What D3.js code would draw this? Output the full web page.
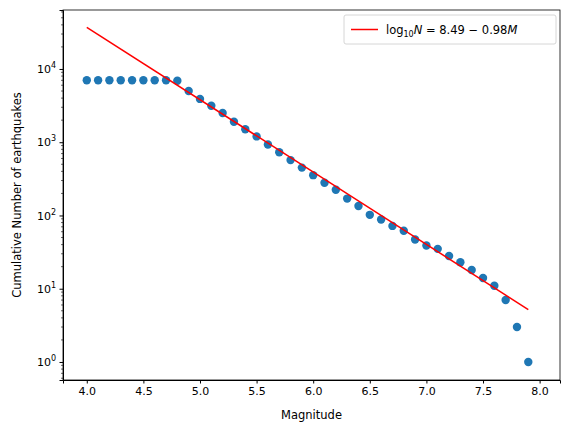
<!DOCTYPE html>
<html lang="en">
<head>
<meta charset="UTF-8"/>
<script src="https://d3js.org/d3.v7.min.js"></script>
<style>
    body { margin: 0; background: white; }
    text { font-family: "DejaVu Sans", sans-serif; }
</style>
</head>
<body>
<div id="chart"></div>
<script>
    const magnitudes = [4.0, 4.1, 4.2, 4.3, 4.4, 4.5, 4.6, 4.7, 4.8, 4.9, 5.0, 5.1, 5.2, 5.3, 5.4, 5.5, 5.6, 5.7, 5.8, 5.9,
        6.0, 6.1, 6.2, 6.3, 6.4, 6.5, 6.6, 6.7, 6.8, 6.9, 7.0, 7.1, 7.2, 7.3, 7.4, 7.5, 7.6, 7.7, 7.8, 7.9];
    const counts = [7000, 7000, 7000, 7000, 7000, 7000, 7000, 7000, 6900, 5000, 3900, 3150, 2500, 1900, 1500, 1200, 930, 730, 570, 450,
        355, 280, 225, 170, 135, 102, 88, 72, 62, 47, 39, 35, 28, 23, 18, 14, 11, 7, 3, 1];
    const fitLine = [{m: 4.0, n: 37000}, {m: 7.9, n: 5.2}];
    const xTicks = [4.0, 4.5, 5.0, 5.5, 6.0, 6.5, 7.0, 7.5, 8.0];
    const yTicks = [0, 1, 2, 3, 4];

    const width = 570, height = 433;
    const margin = {top: 10, right: 10, bottom: 53, left: 63};
    const gW = width - margin.left - margin.right;
    const gH = height - margin.top - margin.bottom;

    const svg = d3.select("#chart").append("svg").attr("width", width).attr("height", height);
    const g = svg.append("g").attr("transform", `translate(${margin.left},${margin.top})`);

    const x = d3.scaleLinear().domain([3.79, 8.18]).range([0, gW]);
    const y = d3.scaleLog().domain([Math.pow(10, -0.246), Math.pow(10, 4.805)]).range([gH, 0]);

    // X axis
    const xAxis = g.append("g").attr("transform", `translate(0,${gH})`)
        .call(d3.axisBottom(x).tickValues(xTicks).tickFormat(d3.format(".1f")).tickSizeOuter(0).tickSize(3.5).tickPadding(3.5));
    xAxis.selectAll("text").style("font-size", "11px").attr("fill", "black");

    // Y axis major
    const yAxis = g.append("g")
        .call(d3.axisLeft(y).tickValues(yTicks.map(p => Math.pow(10, p))).tickFormat("").tickSizeOuter(0).tickSize(3.5));
    yAxis.selectAll(".tick").append("text")
        .attr("x", -7).attr("dy", "0.32em").attr("text-anchor", "end")
        .attr("fill", "black").style("font-size", "11px")
        .each(function (d) {
            const t = d3.select(this);
            t.append("tspan").text("10");
            t.append("tspan").attr("dy", "-0.6em").style("font-size", "8px").text(Math.round(Math.log10(d)));
        });
    // minor ticks
    const minor = [];
    for (let p = -1; p <= 4; p++) for (let k = 2; k <= 9; k++) {
        const v = k * Math.pow(10, p);
        if (v > y.domain()[0] && v < y.domain()[1]) minor.push(v);
    }
    g.append("g").selectAll("line").data(minor).join("line")
        .attr("x1", -2).attr("x2", 0).attr("y1", d => y(d)).attr("y2", d => y(d))
        .attr("stroke", "black").attr("stroke-width", 0.6);

    g.append("rect").attr("width", gW).attr("height", gH).attr("fill", "none").attr("stroke", "black").attr("stroke-width", 0.8);

    // Points
    g.selectAll("circle").data(magnitudes).join("circle")
        .attr("cx", d => x(d)).attr("cy", (d, i) => y(counts[i])).attr("r", 4.2).attr("fill", "#1f77b4");

    // Fit line
    g.append("path").attr("d", d3.line().x(d => x(d.m)).y(d => y(d.n))(fitLine))
        .attr("fill", "none").attr("stroke", "red").attr("stroke-width", 1.5);

    // Labels
    svg.append("text").attr("x", margin.left + gW / 2).attr("y", height - 14).attr("text-anchor", "middle")
        .style("font-size", "11.5px").text("Magnitude");
    svg.append("text").attr("transform", `translate(21,${margin.top + gH / 2}) rotate(-90)`).attr("text-anchor", "middle")
        .style("font-size", "11.5px").text("Cumulative Number of earthquakes");

    // Legend
    const lg = g.append("g").attr("transform", `translate(${gW - 216},5)`);
    lg.append("rect").attr("width", 212).attr("height", 29).attr("rx", 2).attr("fill", "white")
        .attr("stroke", "#cccccc").attr("stroke-width", 0.8);
    lg.append("line").attr("x1", 7).attr("x2", 34).attr("y1", 14.5).attr("y2", 14.5).attr("stroke", "red").attr("stroke-width", 1.5);
    const lt = lg.append("text").attr("x", 42).attr("y", 19).style("font-size", "11.5px");
    lt.append("tspan").text("log");
    lt.append("tspan").attr("dy", 3).style("font-size", "8px").text("10");
    lt.append("tspan").attr("dy", -3).style("font-style", "italic").text("N");
    lt.append("tspan").text(" = 8.49 − 0.98");
    lt.append("tspan").style("font-style", "italic").text("M");
</script>
</body>
</html>
